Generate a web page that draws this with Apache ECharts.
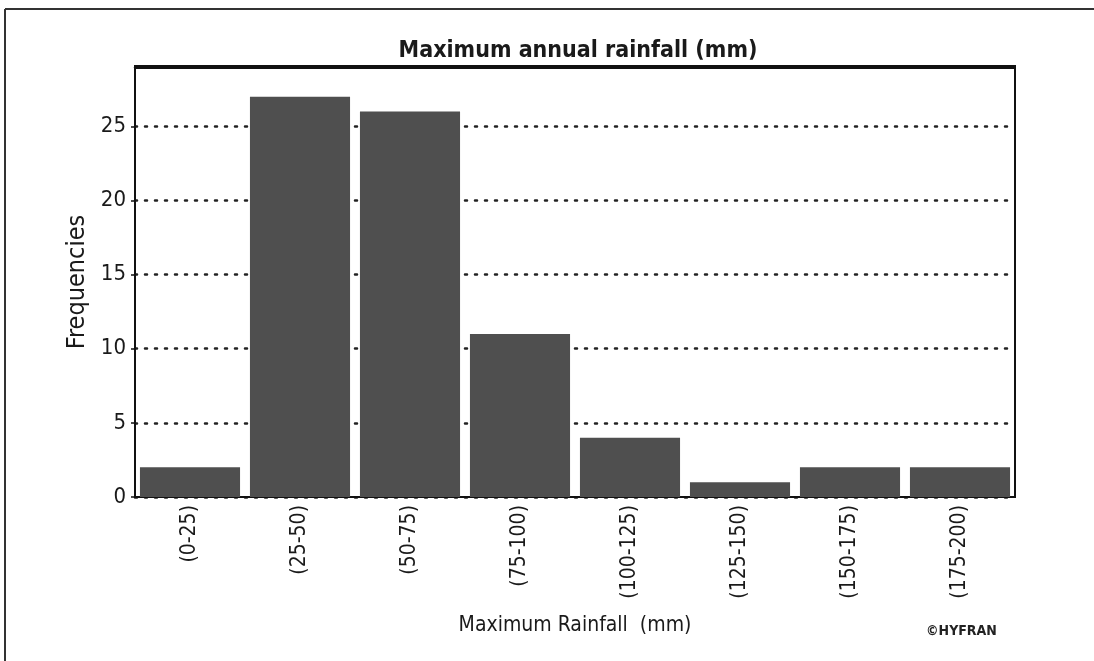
<!DOCTYPE html>
<html>
<head>
<meta charset="utf-8">
<script src="https://cdn.jsdelivr.net/npm/echarts@6/dist/echarts.min.js"></script>
<style>
html,body{margin:0;padding:0;background:#fff;}
#chart{width:1094px;height:661px;}
</style>
</head>
<body>
<div id="chart"></div>
<script>
var categories = ["(0-25)", "(25-50)", "(50-75)", "(75-100)", "(100-125)", "(125-150)", "(150-175)", "(175-200)"];
var frequencies = [2, 27, 26, 11, 4, 1, 2, 2];
var yTicks = [0, 5, 10, 15, 20, 25];
var titleText = "Maximum annual rainfall (mm)";
var xAxisName = "Maximum Rainfall  (mm)";
var yAxisName = "Frequencies";
var creditText = "©HYFRAN";

var NARROW = "'Liberation Sans Narrow', 'Arial Narrow', 'DejaVu Sans Condensed', 'Liberation Sans', sans-serif";

var chart = echarts.init(document.getElementById('chart'), null, {renderer: 'canvas'});
chart.setOption({
  backgroundColor: '#ffffff',
  animation: false,
  title: {
    text: titleText,
    left: 573, top: 35, textAlign: 'center',
    textStyle: {fontFamily: NARROW, fontSize: 23, fontWeight: 'bold', color: '#1a1a1a'}
  },
  grid: {
    left: 135, right: 79, top: 67, bottom: 164,
    show: true, borderColor: '#111', borderWidth: 2, backgroundColor: 'transparent'
  },
  xAxis: {
    type: 'category',
    data: categories,
    boundaryGap: true,
    name: xAxisName,
    nameLocation: 'middle',
    nameGap: 118,
    nameTextStyle: {fontFamily: NARROW, fontSize: 21, color: '#1a1a1a'},
    axisLine: {show: true, lineStyle: {color: '#111', width: 2}},
    axisTick: {show: false},
    axisLabel: {rotate: 90, margin: 8, fontFamily: NARROW, fontSize: 21, color: '#1a1a1a', interval: 0}
  },
  yAxis: {
    type: 'value',
    min: 0, max: 29, interval: 5,
    name: yAxisName,
    nameLocation: 'middle',
    nameGap: 38,
    nameTextStyle: {fontFamily: NARROW, fontSize: 25, color: '#1a1a1a'},
    axisLine: {show: true, lineStyle: {color: '#111', width: 2}},
    axisTick: {show: true, length: 4, lineStyle: {color: '#111', width: 1.5}},
    axisLabel: {
      margin: 9, fontFamily: NARROW, fontSize: 22, color: '#1a1a1a',
      showMaxLabel: false,
      formatter: function (v) { return yTicks.indexOf(v) >= 0 ? String(v) : ''; }
    },
    splitLine: {show: true, lineStyle: {color: '#222', width: 2.5, type: [2, 8], cap: 'round'}}
  },
  series: [{
    type: 'bar',
    data: frequencies,
    barCategoryGap: '9%',
    itemStyle: {color: '#4f4f4f'}
  }],
  graphic: [
    {type: 'line', shape: {x1: 5, y1: 9, x2: 1094, y2: 9}, style: {stroke: '#333', lineWidth: 2}},
    {type: 'line', shape: {x1: 5, y1: 9, x2: 5, y2: 661}, style: {stroke: '#333', lineWidth: 2}},
    {type: 'line', shape: {x1: 134, y1: 67, x2: 1016, y2: 67}, style: {stroke: '#111', lineWidth: 4}, z: 100, zlevel: 1},
    {type: 'text', left: 926, top: 624,
     style: {text: creditText, font: "bold 14px " + NARROW, fill: '#222'}}
  ]
});
</script>
</body>
</html>
